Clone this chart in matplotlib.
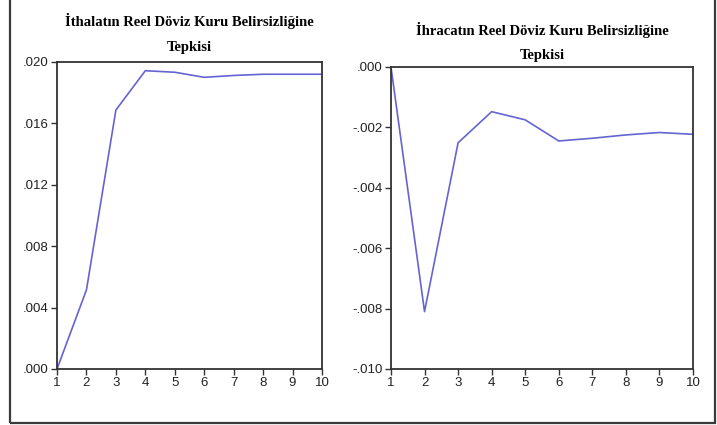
import matplotlib

matplotlib.use("Agg")
import matplotlib.pyplot as plt
from matplotlib.patches import Rectangle
from matplotlib.ticker import FuncFormatter

periods = [1, 2, 3, 4, 5, 6, 7, 8, 9, 10]
ithalat = [0.0, 0.00515, 0.01687, 0.01943, 0.01933, 0.0190, 0.01912, 0.0192, 0.0192, 0.0192]
ihracat = [0.0, -0.0081, -0.00251, -0.00148, -0.00175, -0.00245, -0.00236, -0.00225, -0.00217, -0.00223]

title_left = "İthalatın Reel Döviz Kuru Belirsizliğine\nTepkisi"
title_right = "İhracatın Reel Döviz Kuru Belirsizliğine\nTepkisi"
yticks_left = [0.0, 0.004, 0.008, 0.012, 0.016, 0.020]
yticks_right = [0.0, -0.002, -0.004, -0.006, -0.008, -0.010]

LINE = "#6464d2"
AXIS = "#333333"


def fmt(v, _pos):
    s = f"{v:.3f}"
    s = s.replace("0.", ".", 1)
    if s == "-.000":
        s = ".000"
    return s


def style(ax, yticks, ylim):
    ax.set_xlim(1, 10)
    ax.set_ylim(*ylim)
    ax.set_xticks(periods)
    ax.set_yticks(yticks)
    ax.yaxis.set_major_formatter(FuncFormatter(fmt))
    for sp in ax.spines.values():
        sp.set_color(AXIS)
        sp.set_linewidth(1.3)
    ax.tick_params(direction="out", length=4, width=1, color=AXIS,
                   labelsize=9.5, labelcolor="#222222", pad=2)
    for lab in ax.get_xticklabels() + ax.get_yticklabels():
        lab.set_family("Liberation Sans")


fig = plt.figure(figsize=(7.17, 4.25), dpi=100)
fig.patch.set_facecolor("white")

ax1 = fig.add_axes([0.0795, 0.1318, 0.3696, 0.7224])
ax1.plot(periods, ithalat, color=LINE, lw=1.2)
style(ax1, yticks_left, (0.0, 0.020))
ax1.set_title(title_left, family="Liberation Serif", fontweight="bold",
              fontsize=10.5, pad=8, linespacing=2.2)

ax2 = fig.add_axes([0.5453, 0.1318, 0.4212, 0.7106])
ax2.plot(periods, ihracat, color=LINE, lw=1.2)
style(ax2, yticks_right, (-0.010, 0.0))
ax2.set_title(title_right, family="Liberation Serif", fontweight="bold",
              fontsize=10.5, pad=6, linespacing=2.1)

# outer frame around the whole picture
fig.add_artist(Rectangle((10 / 717, 2 / 425), 705 / 717, 1.0,
                         transform=fig.transFigure, fill=False,
                         edgecolor="#3a3a3a", linewidth=1.6))

fig.savefig("out.png", dpi=100)
plt.close(fig)
